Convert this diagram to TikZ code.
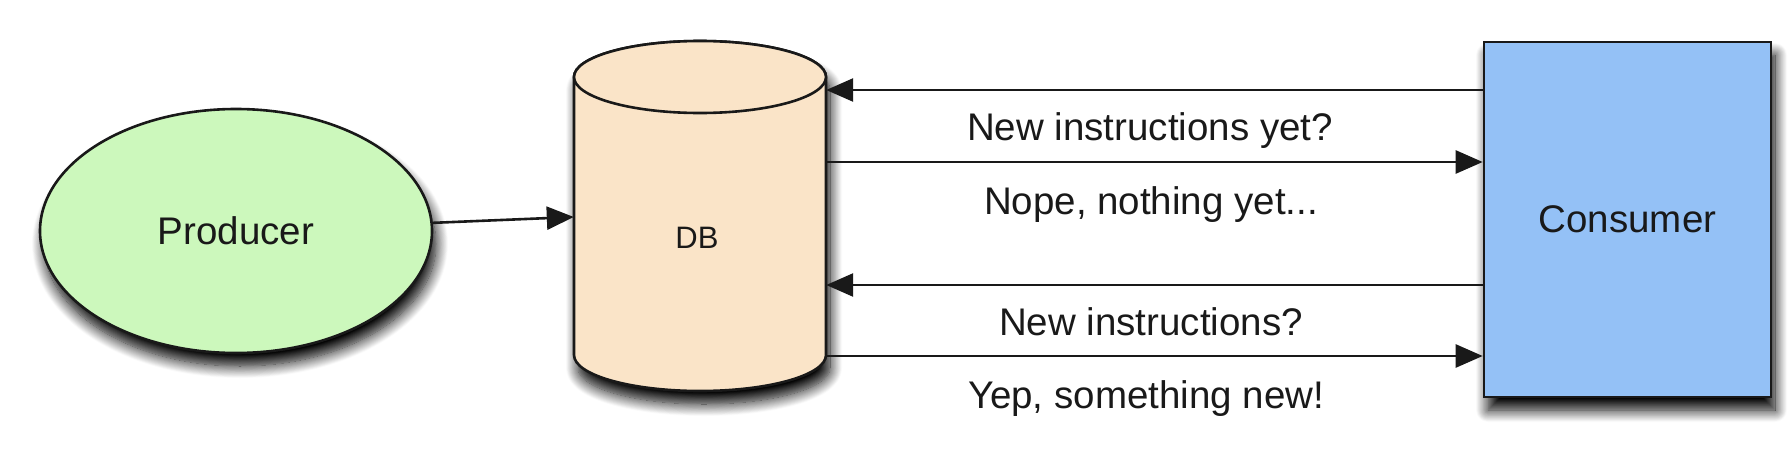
\documentclass[tikz,border=0pt]{standalone}
\usepackage{fontspec}
\setmainfont{Liberation Sans}
\usetikzlibrary{shapes.geometric,arrows.meta,shadows.blur}
\definecolor{prodgreen}{RGB}{204,248,188}
\definecolor{dbpeach}{RGB}{250,228,200}
\definecolor{consblue}{RGB}{148,193,246}
\definecolor{ink}{RGB}{25,25,25}
\tikzset{
  shp/.style={draw=ink, line width=2.6pt},
  shd/.style={blur shadow={shadow xshift=4pt, shadow yshift=-13pt, shadow blur radius=12pt, shadow blur steps=14, shadow opacity=100}},
  arr/.style={draw=ink, line width=2.6pt, -{Triangle[length=27pt,width=23pt]}},
  lbl/.style={font=\fontsize{38.5}{46}\selectfont, text=ink, inner sep=0pt},
}
\begin{document}
\begin{tikzpicture}[x=1pt,y=-1pt]
\useasboundingbox (0,0) rectangle (1792,450);
% Producer
\node[shp, shd, ellipse, fill=prodgreen, minimum width=392pt, minimum height=244pt, inner sep=0pt,
      font=\fontsize{38.5}{46}\selectfont, text=ink] (prod) at (236,231) {Producer};
% DB cylinder drawn directly
\path[shp, shd, fill=dbpeach]
  (574,77) -- (574,355) arc[start angle=180, end angle=360, x radius=126pt, y radius=36pt]
  -- (826,77) arc[start angle=0, end angle=180, x radius=126pt, y radius=36pt] -- cycle;
\draw[shp, fill=dbpeach] (700,77) ellipse[x radius=126pt, y radius=36pt];
\node[inner sep=0pt, minimum width=252pt, minimum height=278pt] (db) at (700,216) {};
\node[font=\fontsize{31}{36}\selectfont, text=ink, inner sep=0pt] (dbl) at (697,238) {DB};
% Consumer
\node[shp, shd, rectangle, fill=consblue, minimum width=287pt, minimum height=355pt, inner sep=0pt,
      font=\fontsize{38.5}{46}\selectfont, text=ink] (cons) at (1627.5,219.5) {Consumer};
% connectors
\draw[arr] (prod) -- (db.west |- 0,217);
\draw[arr] (cons.west |- 0,90) -- (db.east |- 0,90);
\draw[arr] (db.east |- 0,162) -- (cons.west |- 0,162);
\draw[arr] (cons.west |- 0,285) -- (db.east |- 0,285);
\draw[arr] (db.east |- 0,356) -- (cons.west |- 0,356);
% labels
\node[lbl] (l1) at (1150,131) {New instructions yet?};
\node[lbl] (l2) at (1151,205) {Nope, nothing yet...};
\node[lbl] (l3) at (1151,322) {New instructions?};
\node[lbl] (l4) at (1146,399) {Yep, something new!};
\end{tikzpicture}
\end{document}
